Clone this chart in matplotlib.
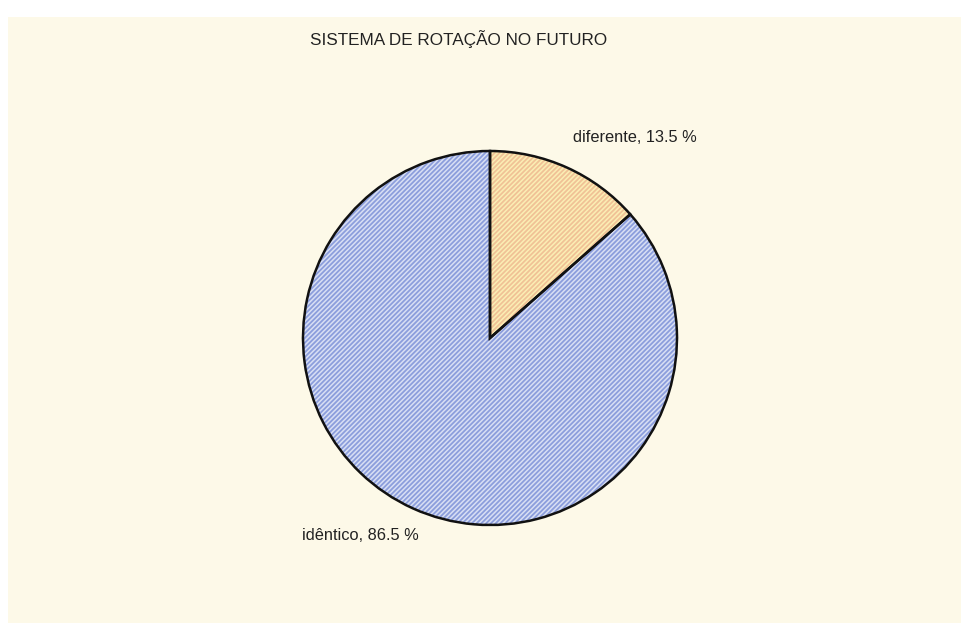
import matplotlib.pyplot as plt
from matplotlib.patches import Rectangle

plt.rcParams['font.family'] = ['Liberation Sans', 'DejaVu Sans']
plt.rcParams['hatch.linewidth'] = 1.3

# data
categories = ['diferente', 'idêntico']
values = [13.5, 86.5]
title = 'SISTEMA DE ROTAÇÃO NO FUTURO'

face_colors = ['#fbeeb4', '#d8dff4']
hatch_colors = ['#f0c296', '#8c9edc']

W, H = 962, 623
fig = plt.figure(figsize=(W / 100, H / 100), dpi=100)
fig.patch.set_facecolor('white')
ax = fig.add_axes([0, 0, 1, 1])

# beige background panel
ax.add_patch(Rectangle((8, 0), W - 8, H - 17, facecolor='#fdf9e8', edgecolor='none', zorder=0))

cx, cy, r = 490, H - 338, 187

# hatched fills
wedges, _ = ax.pie(values, startangle=90, counterclock=False, center=(cx, cy),
                   radius=r, colors=face_colors, frame=True)
for w, hc in zip(wedges, hatch_colors):
    w.set_hatch('/' * 7)
    w.set_edgecolor(hc)
    w.set_linewidth(0)
    w.set_zorder(1)

# black outlines
outline, _ = ax.pie(values, startangle=90, counterclock=False, center=(cx, cy),
                    radius=r, frame=True,
                    wedgeprops=dict(fill=False, edgecolor='#111111', linewidth=1.8))
for w in outline:
    w.set_zorder(2)

ax.set_xlim(0, W)
ax.set_ylim(0, H)
ax.set_aspect('equal')
ax.axis('off')

ax.text(635, H - 137, f'{categories[0]}, {values[0]} %', ha='center', va='center',
        fontsize=11.8, color='#222222')
ax.text(360, H - 535, f'{categories[1]}, {values[1]} %', ha='center', va='center',
        fontsize=11.8, color='#222222')
ax.text(459, H - 39, title, ha='center', va='center', fontsize=12.3, color='#222222')

fig.savefig('out.png', dpi=100)
